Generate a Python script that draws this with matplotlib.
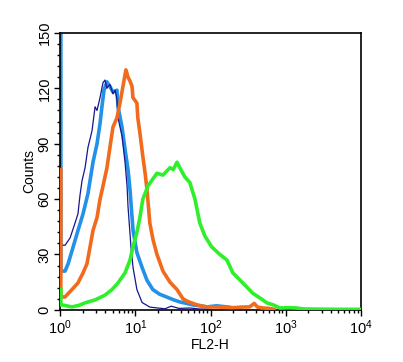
import matplotlib
matplotlib.use("Agg")
from matplotlib import pyplot as plt
from matplotlib.ticker import MultipleLocator, LogLocator

plt.rcParams["font.family"] = ["Liberation Sans", "DejaVu Sans"]
plt.rcParams["mathtext.fontset"] = "custom"
plt.rcParams["mathtext.rm"] = "Liberation Sans"

# FL2-H channel values and counts
navy_x = [1.025, 1.03, 1.165, 1.36, 1.58, 1.73, 1.84, 1.96, 2.15, 2.35, 2.66, 2.92, 3.1, 3.4, 3.72,
          3.96, 4.2, 4.34, 4.61, 5.05, 5.4, 5.71, 5.89, 6.66, 7.3, 7.77, 8.0, 8.76, 9.33, 10.5,
          12.3, 15.6, 20, 24.8, 30, 38, 53, 70, 104]
navy_y = [35, 35, 35, 39, 47, 52, 62, 70, 77, 88, 97, 110, 108, 115, 123,
          124.5, 120, 121, 122, 117, 119, 114, 104, 94, 80, 67, 56, 34, 23, 11,
          4, 1.5, 1, 0.6, 2, 0.8, 1, 0.5, 0.2]

blue_x = [1.025, 1.025, 1.165, 1.28, 1.49, 1.73, 2.02, 2.35, 2.74, 3.1, 3.4, 3.6, 3.84, 4.2, 4.6,
          5.05, 5.71, 5.89, 6.66, 7.3, 8.0, 8.5, 9.33, 10.5, 12.3, 14.3, 17.1, 21, 26, 32,
          39, 48, 58, 72, 89, 120, 165, 198, 210]
blue_y = [170, 21, 21, 25, 34, 43, 52, 63, 80, 90, 101, 110, 119, 123.5, 121,
          118, 119, 110, 99, 87, 76, 65, 43, 31, 23, 16, 11, 8.5, 7, 5.5,
          4.3, 3.5, 2.7, 2.2, 1.6, 2.2, 1.6, 1, 0.3]

orange_x = [1.025, 1.025, 1.165, 1.44, 1.73, 2.02, 2.28, 2.5, 2.74, 3.1, 3.4, 3.72, 4.2, 4.6,
            5.05, 5.7, 6.25, 6.85, 7.5, 8.0, 8.5, 9.05, 9.3, 10.5, 10.8, 11.5, 12.6, 13.5, 14.3,
            15.6, 17.2, 19.4, 23.3, 28.9, 35.8, 43, 50, 66, 89, 130, 200, 260, 330, 380, 420,
            500, 600, 700]
orange_y = [76, 7, 7, 11, 14.6, 20, 25, 34, 43, 50, 60, 67, 77, 88,
            99, 104, 112, 121, 130, 126, 124, 121, 115, 112, 104, 96, 83, 74, 65,
            47, 38, 30, 21, 15, 11, 6, 4.5, 2.7, 1.6, 1.5, 1.2, 1.5, 1.6, 3.5, 1.5,
            1, 0.8, 0.3]

green_x = [1.025, 1.025, 1.06, 1.44, 1.8, 2.15, 2.92, 3.96, 4.9, 5.89, 7.3, 8.5, 9.3, 10.5, 11.5,
           12.6, 14.7, 16.5, 19.4, 23.3, 28.9, 32, 35.8, 39, 45.5, 53, 62, 72, 84, 104,
           133, 165, 198, 268, 364, 450, 560, 700, 830, 1100, 1400, 1700, 2500, 5000, 10000]
green_y = [11, 2.7, 2.7, 1.6, 2.5, 3.8, 5.4, 8, 11, 14.6, 20, 27, 34, 42, 50,
           60, 67, 70, 74, 73, 77, 76, 80, 77, 72, 69, 60, 47, 40, 34,
           30, 27, 20, 14.6, 9, 6.5, 3.8, 2.5, 1, 1.2, 1, 0.5, 0.4, 0.3, 0.3]


fig = plt.figure(figsize = (4.03, 3.62), dpi = 100)
ax = fig.add_axes([0.149, 0.144, 0.747, 0.765])

ax.plot(blue_x, blue_y, color = "#2291e8", linewidth = 2.6, zorder = 2)
ax.plot(navy_x, navy_y, color = "#16168f", linewidth = 0.9, zorder = 3)
ax.plot(orange_x, orange_y, color = "#f26b1d", linewidth = 2.6, zorder = 4)
ax.plot(green_x, green_y, color = "#2ef02a", linewidth = 2.6, zorder = 5)

ax.set_xscale("log")
ax.set_xlim(1, 10000)
ax.set_ylim(0, 150)

ax.yaxis.set_major_locator(MultipleLocator(30))
ax.yaxis.set_minor_locator(MultipleLocator(6))
ax.xaxis.set_major_locator(LogLocator(base = 10, numticks = 10))
ax.xaxis.set_minor_locator(LogLocator(base = 10, subs = range(2, 10), numticks = 50))

ax.tick_params(which = "major", direction = "out", length = 4, width = 1, labelsize = 10.5, pad = 2)
ax.tick_params(which = "minor", direction = "out", length = 2.5, width = 1)
for label in ax.get_yticklabels():
    label.set_rotation(90)
    label.set_verticalalignment("center")

for spine in ax.spines.values():
    spine.set_linewidth(1.2)

ax.set_xlabel("FL2-H", fontsize = 10, labelpad = 1)
ax.set_ylabel("Counts", fontsize = 10, labelpad = 1)

plt.savefig("out.png", dpi = 100)
